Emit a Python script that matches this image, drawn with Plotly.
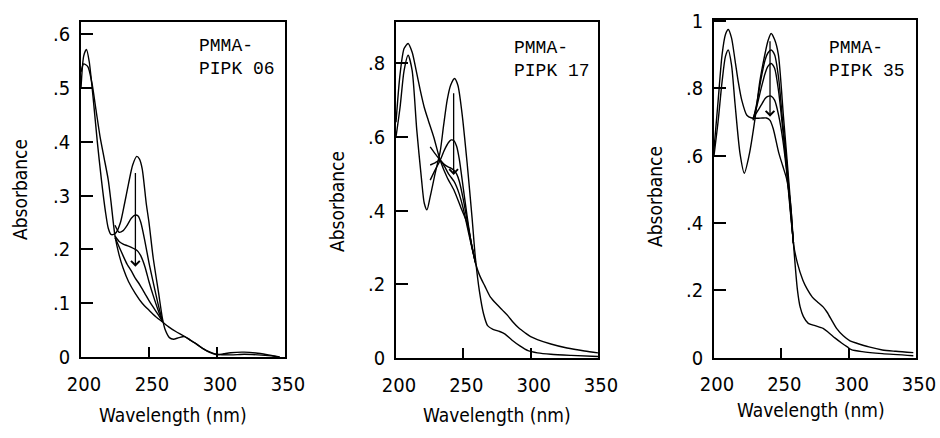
import plotly.graph_objects as go

# ---------------- data ----------------
# Panel 1: PMMA-PIPK 06
p1_init_wl = [200, 202, 204, 206, 209, 212, 215, 218, 220, 222, 224, 226, 229, 232, 235, 238, 241, 243, 245, 248, 250, 253, 257, 260, 262, 265, 268, 272, 276, 280, 285, 290, 295, 300, 305, 310, 320, 330, 340, 346]
p1_init_abs = [0.50, 0.56, 0.572, 0.55, 0.48, 0.40, 0.33, 0.27, 0.24, 0.228, 0.228, 0.232, 0.25, 0.285, 0.323, 0.357, 0.373, 0.368, 0.35, 0.285, 0.25, 0.186, 0.12, 0.07, 0.05, 0.036, 0.033, 0.036, 0.038, 0.032, 0.024, 0.015, 0.008, 0.004, 0.006, 0.008, 0.009, 0.007, 0.003, 0.0]
p1_mid_wl = [225, 228, 231, 234, 237, 240, 242, 244, 247, 250, 253, 257, 260]
p1_mid1_abs = [0.245, 0.232, 0.235, 0.245, 0.258, 0.264, 0.262, 0.25, 0.215, 0.175, 0.14, 0.095, 0.066]
p1_mid2_abs = [0.225, 0.215, 0.21, 0.207, 0.204, 0.2, 0.196, 0.188, 0.168, 0.14, 0.115, 0.085, 0.066]
p1_mid3_abs = [0.222, 0.205, 0.188, 0.172, 0.16, 0.146, 0.139, 0.131, 0.118, 0.105, 0.093, 0.078, 0.066]
p1_final_wl = [200, 202, 205, 208, 211, 214, 217, 220, 222, 225, 228, 231, 235, 240, 245, 250, 255, 260, 265, 270, 275, 280, 285, 290, 295, 300, 310, 320, 330, 340, 346]
p1_final_abs = [0.53, 0.545, 0.54, 0.51, 0.46, 0.41, 0.37, 0.33, 0.29, 0.225, 0.19, 0.165, 0.14, 0.118, 0.1, 0.087, 0.075, 0.065, 0.055, 0.047, 0.04, 0.032, 0.024, 0.015, 0.009, 0.005, 0.004, 0.005, 0.004, 0.002, 0.0]

# Panel 2: PMMA-PIPK 17
p2_init_wl = [200, 203, 206, 209, 212, 215.4, 219, 221, 223, 225.4, 229, 232.8, 235.3, 238, 240.5, 243.5, 246, 249, 252.8, 256.5, 259, 262, 265, 268, 272, 277, 281, 286, 292, 298, 305, 315, 330, 350]
p2_init_abs = [0.6, 0.68, 0.78, 0.822, 0.78, 0.62, 0.483, 0.42, 0.402, 0.438, 0.5, 0.56, 0.63, 0.7, 0.74, 0.759, 0.74, 0.665, 0.53, 0.38, 0.27, 0.18, 0.12, 0.088, 0.078, 0.072, 0.065, 0.049, 0.033, 0.02, 0.014, 0.01, 0.007, 0.004]
p2_mid_wl = [225.4, 229, 232.8, 236, 239, 241, 243, 245, 247, 250, 253, 256, 259]
p2_mid1_abs = [0.483, 0.51, 0.537, 0.565, 0.585, 0.592, 0.59, 0.575, 0.54, 0.46, 0.38, 0.31, 0.26]
p2_mid2_abs = [0.573, 0.555, 0.537, 0.525, 0.518, 0.515, 0.51, 0.5, 0.48, 0.43, 0.37, 0.31, 0.26]
p2_mid3_abs = [0.524, 0.53, 0.537, 0.52, 0.5, 0.49, 0.48, 0.465, 0.445, 0.405, 0.355, 0.305, 0.26]
p2_final_wl = [200, 203, 206, 209, 212, 215, 218, 221, 224, 228, 232.8, 238, 243, 248, 252.8, 256, 259, 262, 266, 270, 275, 279, 283, 287, 291, 296, 300, 305, 315, 327, 340, 350]
p2_final_abs = [0.64, 0.77, 0.84, 0.854, 0.83, 0.78, 0.727, 0.68, 0.645, 0.6, 0.537, 0.49, 0.456, 0.41, 0.366, 0.31, 0.258, 0.225, 0.195, 0.166, 0.145, 0.13, 0.115, 0.097, 0.082, 0.068, 0.058, 0.05, 0.038, 0.027, 0.019, 0.014]

# Panel 3: PMMA-PIPK 35
p3_init_wl = [200, 203, 206, 208.5, 210.6, 213, 215.6, 219.3, 222.5, 226, 230.5, 234, 238, 240, 242.4, 245, 247.8, 251.5, 254, 257.8, 259, 262, 264, 266.4, 270, 275, 281, 285, 290, 295, 299, 302, 310, 325, 348]
p3_init_abs = [0.6, 0.7, 0.82, 0.895, 0.914, 0.87, 0.755, 0.607, 0.548, 0.6, 0.711, 0.82, 0.905, 0.94, 0.963, 0.945, 0.9, 0.72, 0.6, 0.41, 0.34, 0.2, 0.15, 0.122, 0.102, 0.095, 0.087, 0.075, 0.058, 0.043, 0.032, 0.024, 0.018, 0.012, 0.006]
p3_mid_wl = [229, 232, 235, 238, 240, 242.4, 245, 248, 251, 254, 257, 259]
p3_mid1_abs = [0.705, 0.76, 0.83, 0.885, 0.905, 0.914, 0.9, 0.83, 0.7, 0.58, 0.43, 0.34]
p3_mid2_abs = [0.708, 0.75, 0.8, 0.845, 0.865, 0.874, 0.86, 0.79, 0.68, 0.56, 0.43, 0.34]
p3_mid3_abs = [0.711, 0.73, 0.75, 0.77, 0.776, 0.777, 0.765, 0.72, 0.65, 0.55, 0.42, 0.34]
p3_final_wl = [200, 203, 206, 208.5, 210.6, 213, 215.6, 218, 220.6, 224.4, 228, 232, 236, 239, 241.6, 244, 248, 251, 254, 257, 259, 262, 266, 269, 273, 277, 281, 284, 288, 291, 296, 301, 306, 315, 325, 335, 348]
p3_final_abs = [0.62, 0.76, 0.9, 0.96, 0.975, 0.95, 0.884, 0.82, 0.765, 0.72, 0.712, 0.711, 0.712, 0.712, 0.705, 0.68, 0.61, 0.57, 0.53, 0.45, 0.34, 0.28, 0.23, 0.205, 0.18, 0.165, 0.151, 0.135, 0.107, 0.087, 0.065, 0.05, 0.043, 0.032, 0.023, 0.019, 0.015]

# arrows (wavelength, start absorbance, end absorbance)
arrow_wl = [240, 242.8, 241.6]
arrow_from = [0.345, 0.723, 0.944]
arrow_to = [0.168, 0.497, 0.716]

panel_labels = ["PMMA-<br>PIPK 06", "PMMA-<br>PIPK 17", "PMMA-<br>PIPK 35"]
x_ticks = [200, 250, 300, 350]
x_ticktext = ["200", "250", "300", "350"]
y1_ticks = [0, 0.1, 0.2, 0.3, 0.4, 0.5, 0.6]
y1_ticktext = ["0", ".1", ".2", ".3", ".4", ".5", ".6"]
y2_ticks = [0, 0.2, 0.4, 0.6, 0.8]
y2_ticktext = ["0", ".2", ".4", ".6", ".8"]
y3_ticks = [0, 0.2, 0.4, 0.6, 0.8, 1.0]
y3_ticktext = ["0", ".2", ".4", ".6", ".8", "1"]
y_ranges = [[0, 0.623], [0, 0.913], [0, 1.003]]

# ---------------- figure ----------------
W, H = 940, 438
FONT = "DejaVu Sans Condensed, DejaVu Sans, sans-serif"
MONO = "Liberation Mono, DejaVu Sans Mono, monospace"
LINE = dict(color="black", width=1.4)

fig = go.Figure()

panels = [
    [(p1_init_wl, p1_init_abs), (p1_mid_wl, p1_mid1_abs), (p1_mid_wl, p1_mid2_abs),
     (p1_mid_wl, p1_mid3_abs), (p1_final_wl, p1_final_abs)],
    [(p2_init_wl, p2_init_abs), (p2_mid_wl, p2_mid1_abs), (p2_mid_wl, p2_mid2_abs),
     (p2_mid_wl, p2_mid3_abs), (p2_final_wl, p2_final_abs)],
    [(p3_init_wl, p3_init_abs), (p3_mid_wl, p3_mid1_abs), (p3_mid_wl, p3_mid2_abs),
     (p3_mid_wl, p3_mid3_abs), (p3_final_wl, p3_final_abs)],
]
for i, curves in enumerate(panels):
    suffix = "" if i == 0 else str(i + 1)
    for wl, ab in curves:
        fig.add_trace(go.Scatter(x=wl, y=ab, mode="lines", line=dict(LINE, shape="spline", smoothing=0.7),
                                 xaxis="x" + suffix, yaxis="y" + suffix, hoverinfo="skip"))

boxes = [(81, 285, 22, 357), (396, 598, 21.7, 358), (714, 916, 20, 357.7)]
y_tick_sets = [(y1_ticks, y1_ticktext), (y2_ticks, y2_ticktext), (y3_ticks, y3_ticktext)]

layout = dict(width=W, height=H, margin=dict(l=0, r=0, t=0, b=0, autoexpand=False),
              paper_bgcolor="white", plot_bgcolor="white", showlegend=False,
              font=dict(family=FONT, color="black", size=20))
tf = dict(family=FONT, size=20, color="black")
for i, (l, r, t, b) in enumerate(boxes):
    suffix = "" if i == 0 else str(i + 1)
    layout["xaxis" + suffix] = dict(
        domain=[l / W, r / W], anchor="y" + suffix, range=[200, 350], automargin=False,
        tickvals=x_ticks, ticktext=x_ticktext, ticks="inside", ticklen=10, tickwidth=1.5,
        tickcolor="black", showline=True, mirror=True, linewidth=1.5, linecolor="black",
        showgrid=False, zeroline=False, tickfont=tf, ticklabelstandoff=8, ticklabelshift=3)
    tv, tt = y_tick_sets[i]
    layout["yaxis" + suffix] = dict(
        domain=[1 - b / H, 1 - t / H], anchor="x" + suffix, range=y_ranges[i], automargin=False,
        tickvals=tv, ticktext=tt, ticks="inside", ticklen=12, tickwidth=1.5,
        tickcolor="black", showline=True, mirror=True, linewidth=1.5, linecolor="black",
        showgrid=False, zeroline=False, tickfont=tf, ticklabelstandoff=5)
fig.update_layout(**layout)

annotations = []
ylab_pos = [(20, 190), (337, 202), (655, 197)]
xlab_pos = [(173, 415), (497, 415), (811, 410)]
lab_pos = [(197, 34), (512, 36), (827, 36)]
for i in range(3):
    suffix = "" if i == 0 else str(i + 1)
    annotations.append(dict(text="Absorbance", x=ylab_pos[i][0] / W, y=1 - ylab_pos[i][1] / H,
                            xref="paper", yref="paper", showarrow=False, textangle=-90,
                            font=dict(family=FONT, size=19), xanchor="center", yanchor="middle"))
    annotations.append(dict(text="Wavelength (nm)", x=xlab_pos[i][0] / W, y=1 - xlab_pos[i][1] / H,
                            xref="paper", yref="paper", showarrow=False,
                            font=dict(family=FONT, size=19), xanchor="center", yanchor="middle"))
    annotations.append(dict(text=panel_labels[i], x=lab_pos[i][0] / W, y=1 - lab_pos[i][1] / H,
                            xref="paper", yref="paper", showarrow=False, align="left",
                            font=dict(family=MONO, size=18), xanchor="left", yanchor="top"))
    annotations.append(dict(text="", x=arrow_wl[i], y=arrow_to[i], ax=arrow_wl[i], ay=arrow_from[i],
                            xref="x" + suffix, yref="y" + suffix, axref="x" + suffix, ayref="y" + suffix,
                            showarrow=True, arrowhead=4, arrowsize=1.3, arrowwidth=1.3, arrowcolor="black"))
fig.update_layout(annotations=annotations)

fig.write_html("out.html")
